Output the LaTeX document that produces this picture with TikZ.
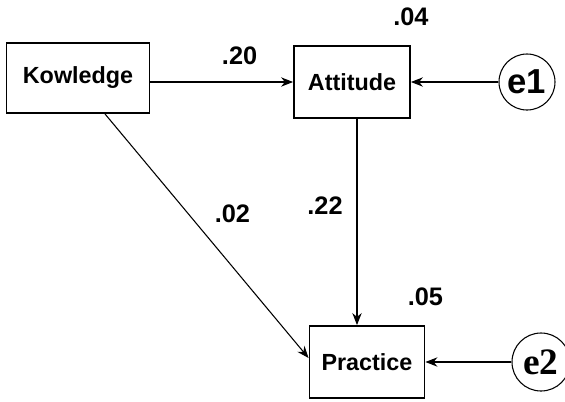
\documentclass[tikz,border=0pt]{standalone}
\usepackage{fontspec}
\setmainfont{Liberation Sans}
\newfontfamily\serifbf{Liberation Serif}
\usepackage{tikz}
\usetikzlibrary{arrows.meta,calc,positioning}

\tikzset{
var/.style={draw, line width=1.4pt, font=\fontsize{17.5}{20}\selectfont\bfseries, inner sep=0pt},
err/.style={draw, circle, line width=0.8pt, inner sep=0pt},
lbl/.style={font=\fontsize{19}{21}\selectfont\bfseries, inner sep=0pt}
}

\begin{document}
\begin{tikzpicture}[%
x=0.75pt, y=-0.75pt,
>={Stealth[length=9pt,width=7pt]},
on grid
]
\useasboundingbox (0,0) rectangle (565,401);

\node[var, minimum width=107.25pt, minimum height=52.5pt] (know) at (78,78) {Kowledge};
\node[var, minimum width=87pt, minimum height=54pt] (att) [below right=3pt and 205.5pt of know] {Attitude};
\node[var, minimum width=86.25pt, minimum height=54pt] (prac) [below right=210pt and 11.25pt of att] {Practice};
\node[err, minimum size=42pt, font=\fontsize{26}{28}\selectfont\bfseries] (e1) [right=131.25pt of att] {e1};
\node[err, minimum size=43.5pt, font=\fontsize{28}{30}\serifbf\bfseries] (e2) [right=130.5pt of prac] {e2};

% paths
\draw[->, line width=0.8pt] (know.east |- att.west) -- (att.west)
  node[lbl, pos=0.625, yshift=19.5pt] (p20) {.20};
\draw[->, line width=0.8pt] ([xshift=20.25pt] know.south) -- ([yshift=3pt] prac.west)
  node[lbl, pos=0.41, xshift=33pt] (p02) {.02};
\draw[->, line width=0.8pt] ([xshift=3.75pt] att.south) -- ([xshift=3.75pt] att.south |- prac.north)
  node[lbl, pos=0.42, xshift=-24pt] (p22) {.22};

% errors
\draw[->, line width=0.8pt] (e1.west) -- (e1.west -| att.east);
\draw[->, line width=0.8pt] (e2.west) -- (e2.west -| prac.east);

% squared multiple correlations
\node[lbl] (r04) [above=14.25pt of att.north east] {.04};
\node[lbl] (r05) [above=14.25pt of prac.north east] {.05};

\end{tikzpicture}
\end{document}
